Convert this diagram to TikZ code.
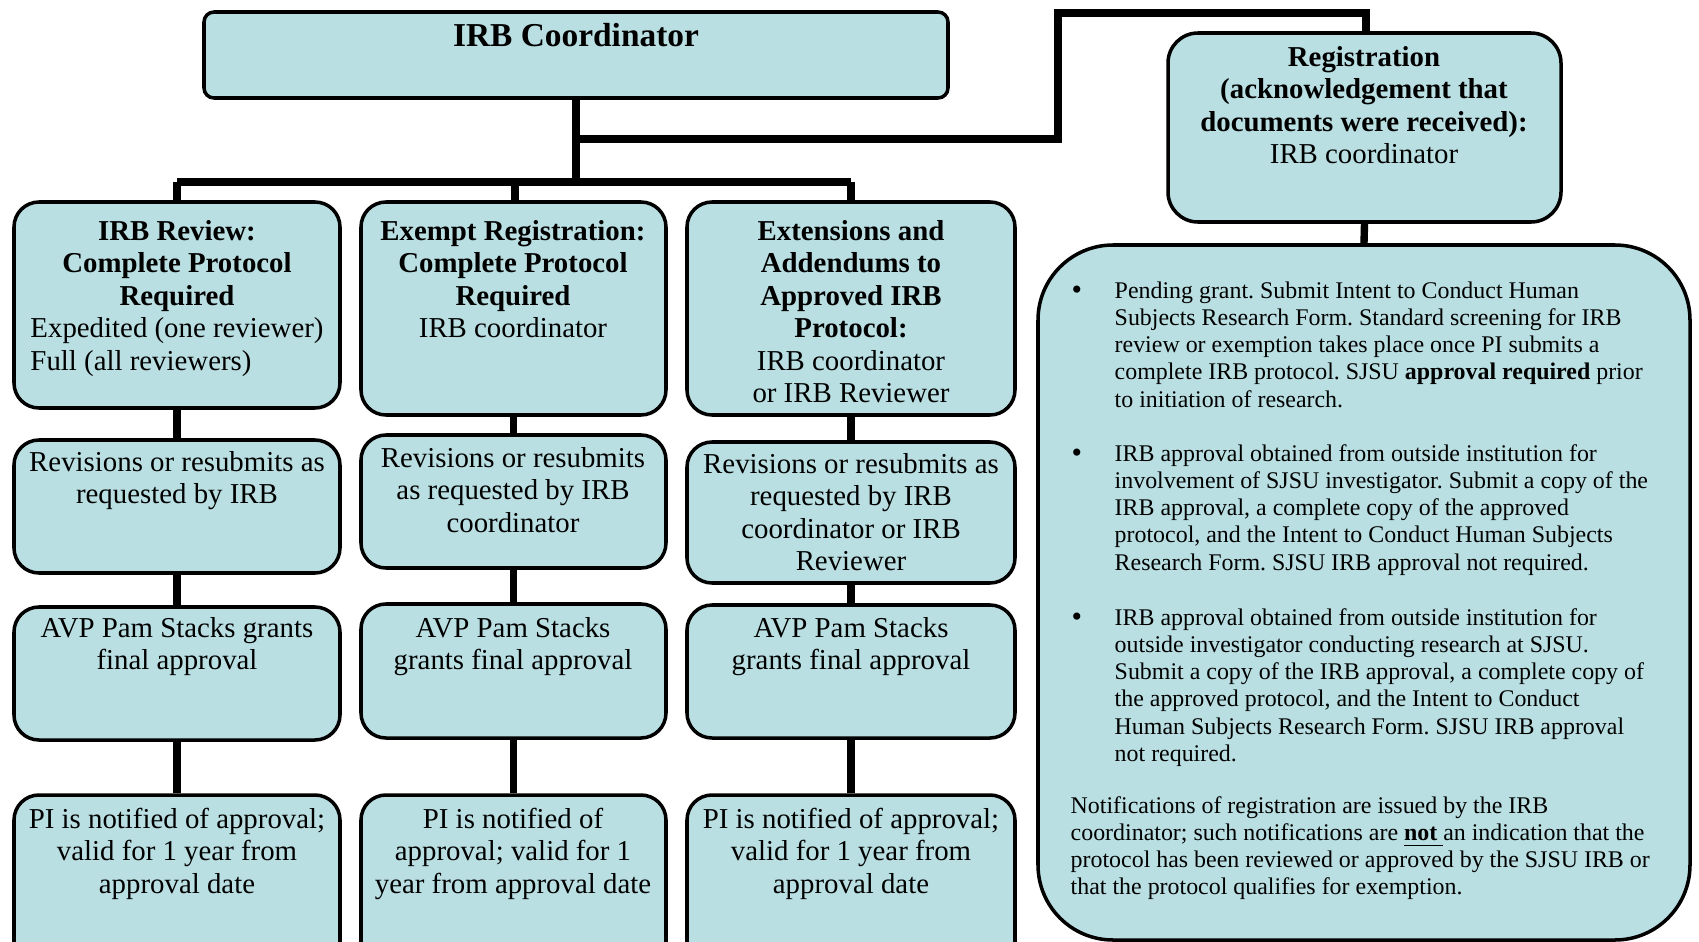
\documentclass[tikz,border=0pt]{standalone}
\usepackage{fontspec}
\setmainfont{Liberation Serif}
\usetikzlibrary{fit}
\definecolor{boxfill}{RGB}{185,223,226}
\newcommand\ctab[1]{\begin{tabular}[t]{@{}c@{}}#1\end{tabular}}
\newcommand\ltab[1]{\begin{tabular}[t]{@{}l@{}}#1\end{tabular}}
\frenchspacing
\begin{document}
\begin{tikzpicture}[x=0.01cm,y=-0.01cm,
  box/.style={draw=black,line width=1pt,fill=boxfill,inner sep=0pt,rounded corners=0.25cm},
  txt/.style={inner sep=0pt,anchor=base,font=\fontsize{8.2}{9.25}\selectfont},
  small/.style={inner sep=0pt,anchor=base west,font=\fontsize{6.8}{7.77}\selectfont},
  bul/.style={inner sep=0pt,anchor=base west,font=\fontsize{8.5}{9}\selectfont},
  conn/.style={draw=black,line width=2.1pt,line join=miter},
  route/.style={draw=black,line width=2.5pt,line join=miter}]
\useasboundingbox (0,0) rectangle (1699,942);
\clip (0,0) rectangle (1699,942);
% coordinates for connector routing
\coordinate (j) at (576,139);
\coordinate (k1) at (1058,13);
\coordinate (busL) at (177,182);
\coordinate (busM) at (576,182);
\coordinate (busR) at (851,182);
% connectors (drawn first, boxes on top)
\draw[route] (j) -| (k1) -| (1366,33) coordinate (regtop);
\draw[route] (576,98) coordinate (coordbot) -- (busM);
\draw[conn] (busL) -- (busR);
\draw[conn] (busL) -- (177,202) coordinate (d1);
\draw[conn] (515,182) coordinate (b2) -- (515,202) coordinate (d2);
\draw[conn] (busR) -- (851,202) coordinate (d3);
% boxes
\node[box,rounded corners=0.1cm,fit={(204,12) (948,98)}] (coord) {};
\node[box,rounded corners=0.3cm,fit={(1168,33) (1561,222)}] (reg) {};
\node[box,rounded corners=0.75cm,fit={(1038,245) (1690,940)}] (big) {};
\node[box,fit={(14,202) (340,408)}] (c1r1) {};
\node[box,fit={(361,202) (666,415)}] (c2r1) {};
\node[box,fit={(687,202) (1015,415)}] (c3r1) {};
\node[box,fit={(14,440) (340,573)}] (c1r2) {};
\node[box,fit={(361,435) (666,568)}] (c2r2) {};
\node[box,fit={(687,442) (1015,583)}] (c3r2) {};
\node[box,fit={(14,607) (340,740)}] (c1r3) {};
\node[box,fit={(361,604) (666,738)}] (c2r3) {};
\node[box,fit={(687,605) (1015,738)}] (c3r3) {};
\node[box,fit={(14,795) (340,1000)}] (c1r4) {};
\node[box,fit={(361,795) (666,1000)}] (c2r4) {};
\node[box,fit={(687,795) (1015,1000)}] (c3r4) {};
% vertical connectors between rows
\draw[conn] (c1r1.south) -- (c1r2.north);
\draw[conn] (c2r1.south) -- (c2r2.north);
\draw[conn] (c3r1.south) -- (c3r2.north);
\draw[conn] (c1r2.south) -- (c1r3.north);
\draw[conn] (c2r2.south) -- (c2r3.north);
\draw[conn] (c3r2.south) -- (c3r3.north);
\draw[conn] (c1r3.south) -- (c1r4.north);
\draw[conn] (c2r3.south) -- (c2r4.north);
\draw[conn] (c3r3.south) -- (c3r4.north);
\draw[conn] (reg.south) -- (big.north);
% texts
\node[txt,font=\fontsize{9.5}{11}\selectfont\bfseries] (tcoord) at (576,46) {IRB Coordinator};
\node[txt] (treg) at (1364,66) {\ctab{\textbf{Registration}\\\textbf{(acknowledgement that}\\\textbf{documents were received):}\\IRB coordinator}};
\node[txt] (t11) at (177,240) {\ctab{\textbf{IRB Review:}\\\textbf{Complete Protocol}\\\textbf{Required}\\\multicolumn{1}{@{}l@{}}{Expedited (one reviewer)}\\\multicolumn{1}{@{}l@{}}{Full (all reviewers)}}};
\node[txt] (t21) at (513,240) {\ctab{\textbf{Exempt Registration:}\\\textbf{Complete Protocol}\\\textbf{Required}\\IRB coordinator}};
\node[txt] (t31) at (851,240) {\ctab{\textbf{Extensions and}\\\textbf{Addendums to}\\\textbf{Approved IRB}\\\textbf{Protocol:}\\IRB coordinator\\or IRB Reviewer}};
\node[txt] (t12) at (177,471) {\ctab{Revisions or resubmits as\\requested by IRB}};
\node[txt] (t22) at (513,467) {\ctab{Revisions or resubmits\\as requested by IRB\\coordinator}};
\node[txt] (t32) at (851,473) {\ctab{Revisions or resubmits as\\requested by IRB\\coordinator or IRB\\Reviewer}};
\node[txt] (t13) at (177,637) {\ctab{AVP Pam Stacks grants\\final approval}};
\node[txt] (t23) at (513,637) {\ctab{AVP Pam Stacks\\grants final approval}};
\node[txt] (t33) at (851,637) {\ctab{AVP Pam Stacks\\grants final approval}};
\node[txt] (t14) at (177,828) {\ctab{PI is notified of approval;\\valid for 1 year from\\approval date}};
\node[txt] (t24) at (513,828) {\ctab{PI is notified of\\approval; valid for 1\\year from approval date}};
\node[txt] (t34) at (851,828) {\ctab{PI is notified of approval;\\valid for 1 year from\\approval date}};
% right panel
\node[bul] (b1) at (1071,299) {\textbullet};
\node[small] (p1) at (1114,298) {\ltab{Pending grant. Submit Intent to Conduct Human\\Subjects Research Form. Standard screening for IRB\\review or exemption takes place once PI submits a\\complete IRB protocol. SJSU \textbf{approval required} prior\\to initiation of research.}};
\node[bul] (b2) at (1071,462) {\textbullet};
\node[small] (p2) at (1114,461) {\ltab{IRB approval obtained from outside institution for\\involvement of SJSU investigator. Submit a copy of the\\IRB approval, a complete copy of the approved\\protocol, and the Intent to Conduct Human Subjects\\Research Form. SJSU IRB approval not required.}};
\node[bul] (b3) at (1071,626) {\textbullet};
\node[small] (p3) at (1114,625) {\ltab{IRB approval obtained from outside institution for\\outside investigator conducting research at SJSU.\\Submit a copy of the IRB approval, a complete copy of\\the approved protocol, and the Intent to Conduct\\Human Subjects Research Form. SJSU IRB approval\\not required.}};
\node[small] (p4) at (1070,813) {\ltab{Notifications of registration are issued by the IRB\\coordinator; such notifications are \underline{\textbf{not}\ }an indication that the\\protocol has been reviewed or approved by the SJSU IRB or\\that the protocol qualifies for exemption.}};
\end{tikzpicture}
\end{document}
